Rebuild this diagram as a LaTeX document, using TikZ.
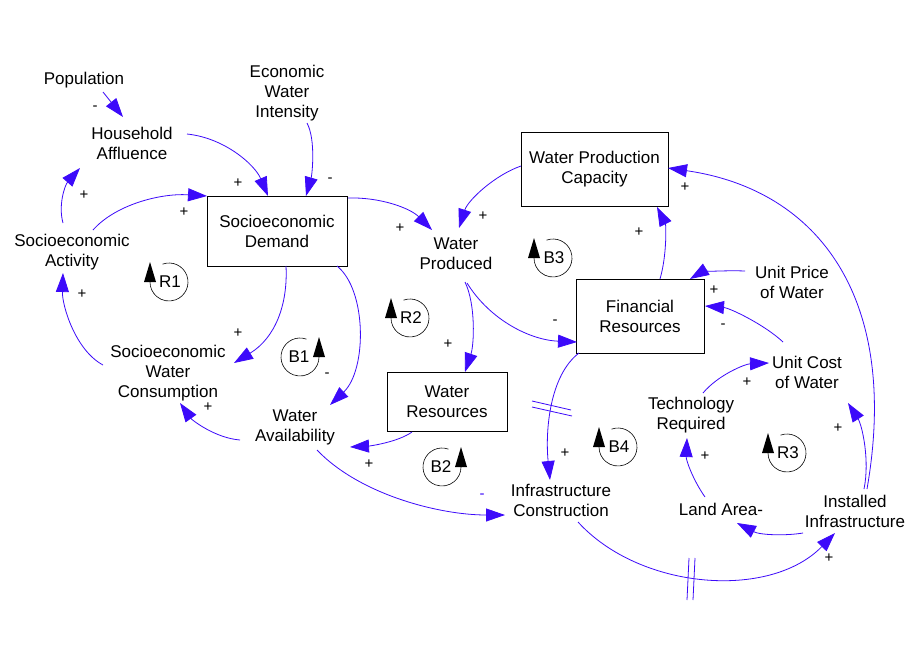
\documentclass[tikz,border=0pt]{standalone}
\usepackage{fontspec}
\setmainfont{Liberation Sans}
\usetikzlibrary{arrows.meta}
\definecolor{linkblue}{RGB}{60,10,250}
\begin{document}
\begin{tikzpicture}[x=1pt,y=-1pt,
  var/.style={align=center,inner sep=0pt,font=\fontsize{17}{20}\selectfont},
  box/.style={draw,line width=1pt,align=center,inner sep=0pt,font=\fontsize{17}{20}\selectfont},
  sgn/.style={inner sep=0pt,font=\fontsize{15}{15}\selectfont},
  link/.style={draw=linkblue,line width=0.8pt,-{Triangle[length=19pt,width=13pt]}},
  delay/.style={draw=linkblue,line width=0.8pt},
  loopc/.style={line width=0.6pt},
  loopt/.style={inner sep=0pt,font=\fontsize{17}{20}\selectfont}]
\path[use as bounding box,fill=white] (0,0) rectangle (923,659);

% variables
\node[var] (pop) at (84,80) {Population};
\node[var] (ha) at (132,143) {Household\\Affluence};
\node[var] (ewi) at (287,93) {Economic\\Water\\Intensity};
\node[box,minimum width=140pt,minimum height=70pt] (sd) at (277,231) {Socioeconomic\\Demand};
\node[var] (sa) at (72,252) {Socioeconomic\\Activity};
\node[var] (swc) at (168,373) {Socioeconomic\\Water\\Consumption};
\node[var] (wa) at (295,427) {Water\\Availability};
\node[var] (wp) at (456,254) {Water\\Produced};
\node[box,minimum width=147pt,minimum height=74pt] (wpc) at (594.5,169) {Water Production\\Capacity};
\node[box,minimum width=128pt,minimum height=74pt] (fr) at (640,316) {Financial\\Resources};
\node[box,minimum width=120pt,minimum height=59pt] (wr) at (447,401.5) {Water\\Resources};
\node[var] (upw) at (792,282) {Unit Price\\of Water};
\node[var] (ucw) at (807,372) {Unit Cost\\of Water};
\node[var] (tr) at (691,415) {Technology\\Required};
\node[var] (la) at (721,509) {Land Area-};
\node[var] (ii) at (855,511) {Installed\\Infrastructure};
\node[var] (ic) at (561,500) {Infrastructure\\Construction};

% links
\draw[link] ([shift={(19,12)}]pop.center) -- ([shift={(-9,-26)}]ha.center);
\draw[link] ([shift={(55,-9)}]ha.center) .. controls (225,138) and (255,165) .. ([shift={(-9,-35)}]sd.center);
\draw[link] ([shift={(20,30)}]ewi.center) .. controls (316,140) and (312,175) .. ([shift={(29,-35)}]sd.center);
\draw[link] ([shift={(-9,-29)}]sa.center) .. controls (58,205) and (65,185) .. ([shift={(-52,25)}]ha.center);
\draw[link] ([shift={(21,-22)}]sa.center) .. controls (115,205) and (160,193) .. ([shift={(-70,-35)}]sd.center);
\draw[link] ([shift={(71,-33)}]sd.center) .. controls (380,197) and (410,208) .. ([shift={(-24,-24)}]wp.center);
\draw[link] ([shift={(9,35)}]sd.center) .. controls (288,305) and (275,338) .. ([shift={(66,-10)}]swc.center);
\draw[link] ([shift={(60,35)}]sd.center) .. controls (367,290) and (367,370) .. ([shift={(35,-22)}]wa.center);
\draw[link] ([shift={(-65,-8)}]swc.center) .. controls (75,350) and (62,305) .. ([shift={(-9,21)}]sa.center);
\draw[link] ([shift={(-55,13)}]wa.center) .. controls (215,438) and (192,420) .. ([shift={(12,30)}]swc.center);
\draw[link] ([shift={(-35,30.5)}]wr.center) .. controls (398,442) and (370,446) .. ([shift={(55,20)}]wa.center);
\draw[link] ([shift={(9,28)}]wp.center) .. controls (476,305) and (474,345) .. ([shift={(18,-29.5)}]wr.center);
\draw[link] ([shift={(11,29)}]wp.center) .. controls (490,320) and (530,340) .. ([shift={(-63,26)}]fr.center);
\draw[link] ([shift={(-73.5,-3)}]wpc.center) .. controls (495,175) and (468,200) .. ([shift={(3,-26)}]wp.center);
\draw[link] ([shift={(20,-37)}]fr.center) .. controls (667,255) and (666,225) .. ([shift={(62.5,38)}]wpc.center);
\draw[link] ([shift={(-47,-11)}]upw.center) .. controls (720,270) and (700,273) .. ([shift={(50,-37)}]fr.center);
\draw[link] ([shift={(-24,-30)}]ucw.center) .. controls (765,325) and (730,308) .. ([shift={(65,-10)}]fr.center);
\draw[link] ([shift={(12,-22)}]tr.center) .. controls (718,375) and (745,364) .. ([shift={(-38,-9)}]ucw.center);
\draw[link] ([shift={(-61,37)}]fr.center) .. controls (550,375) and (545,430) .. ([shift={(-11,-20)}]ic.center);
\draw[link] ([shift={(22,23)}]wa.center) .. controls (360,495) and (440,515) .. ([shift={(-56,15)}]ic.center);
\draw[link] ([shift={(17,22)}]ic.center) .. controls (640,590) and (770,600) .. ([shift={(-20,22)}]ii.center);
\draw[link] ([shift={(-52,22)}]ii.center) .. controls (785,536) and (760,535) .. ([shift={(16,14)}]la.center);
\draw[link] ([shift={(-16,-12)}]la.center) .. controls (693,480) and (686,460) .. ([shift={(-4,23)}]tr.center);
\draw[link] ([shift={(9,-22)}]ii.center) .. controls (870,460) and (862,425) .. ([shift={(41,31)}]ucw.center);
\draw[link] ([shift={(12,-22)}]ii.center) .. controls (900,300) and (820,190) .. ([shift={(73.5,-1)}]wpc.center);

% delay marks
\draw[delay] (532,401) -- (571,410);
\draw[delay] (532,407) -- (572,416);
\draw[delay] (689,558) -- (687,600);
\draw[delay] (695,558) -- (693,600);

% polarity signs
\node[sgn] (s1) at (95,108) {-};
\node[sgn] (s2) at (238,183) {+};
\node[sgn] (s3) at (330,180) {-};
\node[sgn] (s4) at (84,195) {+};
\node[sgn] (s5) at (184,212) {+};
\node[sgn] (s6) at (400,228) {+};
\node[sgn] (s7) at (238,333) {+};
\node[sgn] (s8) at (327,375) {-};
\node[sgn] (s9) at (82,294) {+};
\node[sgn] (s10) at (208,407) {+};
\node[sgn] (s11) at (448,344) {+};
\node[sgn] (s12) at (555,322) {-};
\node[sgn] (s13) at (483,216) {+};
\node[sgn] (s14) at (639,232) {+};
\node[sgn] (s15) at (714,290) {+};
\node[sgn] (s16) at (723,326) {-};
\node[sgn] (s17) at (747,382) {+};
\node[sgn] (s18) at (565,453) {+};
\node[sgn] (s19) at (369,464) {+};
\node[sgn,text=linkblue] (s20) at (482,496) {-};
\node[sgn] (s21) at (829,558) {+};
\node[sgn] (s22) at (705,456) {+};
\node[sgn] (s23) at (838,428) {+};
\node[sgn] (s24) at (685,187) {+};

% loop markers (arrow on left)
\foreach \cx/\cy/\lab/\nm in {169/282/R1/lr1, 410/318/R2/lr2, 553/258/B3/lb3, 618/447/B4/lb4, 787/453/R3/lr3}{
  \begin{scope}[shift={(\cx,\cy)},y=1pt]
    \draw[loopc] (110:19pt) arc[start angle=110,end angle=-180,radius=19pt];
    \fill (-25,0) -- (-19,20) -- (-13,0) -- cycle;
    \node[loopt] (\nm) at (1,0) {\lab};
  \end{scope}
}
% loop markers (arrow on right)
\foreach \cx/\cy/\lab/\nm in {300/357/B1/lb1, 442/467/B2/lb2}{
  \begin{scope}[shift={(\cx,\cy)},y=1pt]
    \draw[loopc] (70:19pt) arc[start angle=70,end angle=360,radius=19pt];
    \fill (13,0) -- (19,20) -- (25,0) -- cycle;
    \node[loopt] (\nm) at (-1,0) {\lab};
  \end{scope}
}
\end{tikzpicture}
\end{document}
